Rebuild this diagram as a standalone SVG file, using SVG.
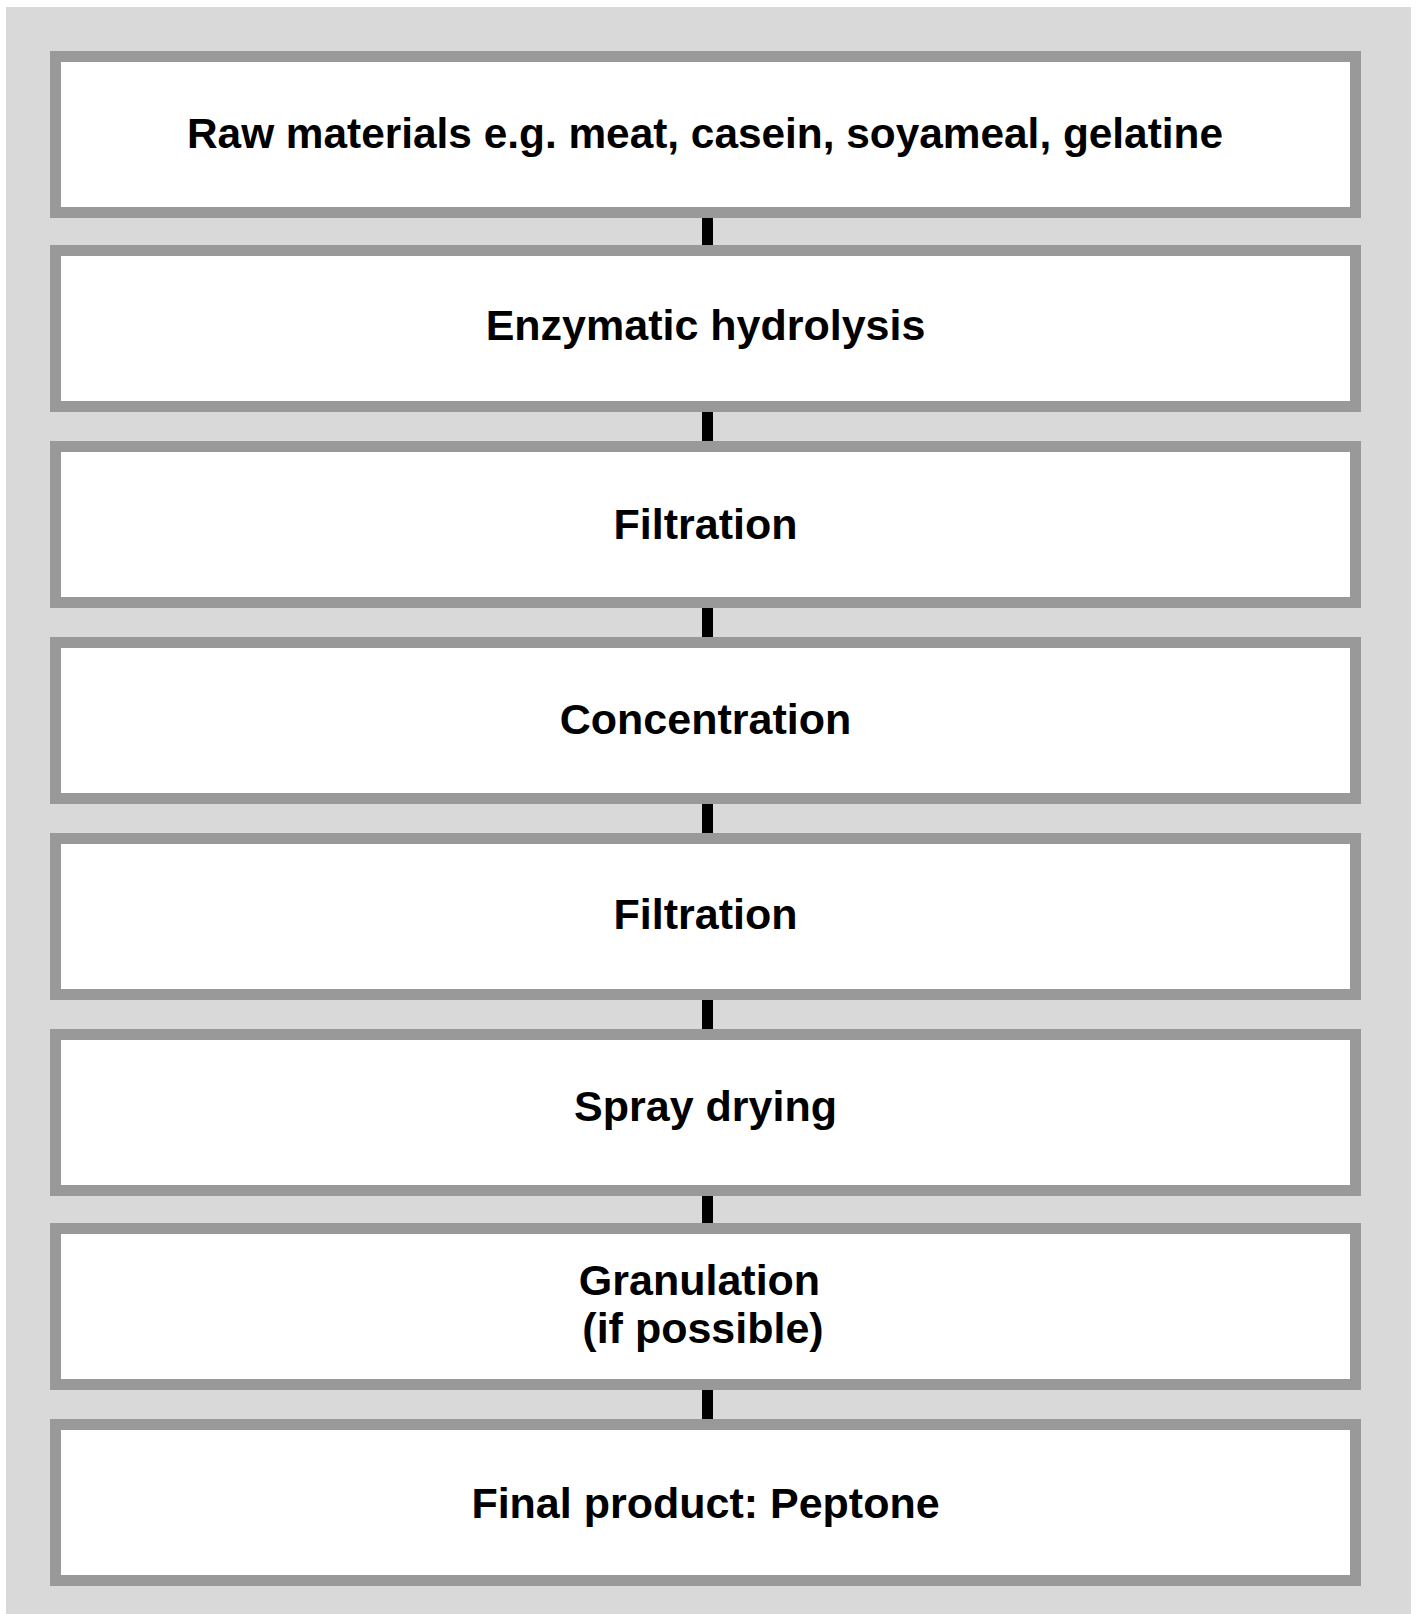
<svg xmlns="http://www.w3.org/2000/svg" width="1417" height="1614" viewBox="0 0 1417 1614">
<style>
.box{fill:#ffffff;stroke:#999999;stroke-width:11}
.lbl{font-family:"Liberation Sans",Arial,sans-serif;font-weight:bold;font-size:43px;fill:#000000;text-anchor:middle}
.con{fill:#000000}
</style>
<rect x="0" y="0" width="1417" height="1614" fill="#ffffff"/>
<rect x="6" y="7" width="1405" height="1607" fill="#d9d9d9"/>
<g id="connectors">
<rect class="con" x="702" y="218" width="11" height="27"/>
<rect class="con" x="702" y="412" width="11" height="29"/>
<rect class="con" x="702" y="608" width="11" height="29"/>
<rect class="con" x="702" y="804" width="11" height="29"/>
<rect class="con" x="702" y="1000" width="11" height="29"/>
<rect class="con" x="702" y="1196" width="11" height="27"/>
<rect class="con" x="702" y="1390" width="11" height="29"/>
</g>
<g id="n1"><rect class="box" x="55.5" y="56.5" width="1300" height="156"/><text class="lbl" x="705" y="148" style="font-size:42.5px" textLength="1036" lengthAdjust="spacingAndGlyphs">Raw materials e.g. meat, casein, soyameal, gelatine</text></g>
<g id="n2"><rect class="box" x="55.5" y="250.5" width="1300" height="156"/><text class="lbl" x="705.5" y="340">Enzymatic hydrolysis</text></g>
<g id="n3"><rect class="box" x="55.5" y="446.5" width="1300" height="156"/><text class="lbl" x="705.5" y="539">Filtration</text></g>
<g id="n4"><rect class="box" x="55.5" y="642.5" width="1300" height="156"/><text class="lbl" x="705.5" y="734">Concentration</text></g>
<g id="n5"><rect class="box" x="55.5" y="838.5" width="1300" height="156"/><text class="lbl" x="705.5" y="929">Filtration</text></g>
<g id="n6"><rect class="box" x="55.5" y="1034.5" width="1300" height="156"/><text class="lbl" x="705.5" y="1121">Spray drying</text></g>
<g id="n7"><rect class="box" x="55.5" y="1228.5" width="1300" height="156"/><text class="lbl" x="699.5" y="1295">Granulation</text><text class="lbl" x="703" y="1343">(if possible)</text></g>
<g id="n8"><rect class="box" x="55.5" y="1424.5" width="1300" height="156"/><text class="lbl" x="705.5" y="1518">Final product: Peptone</text></g>
</svg>
